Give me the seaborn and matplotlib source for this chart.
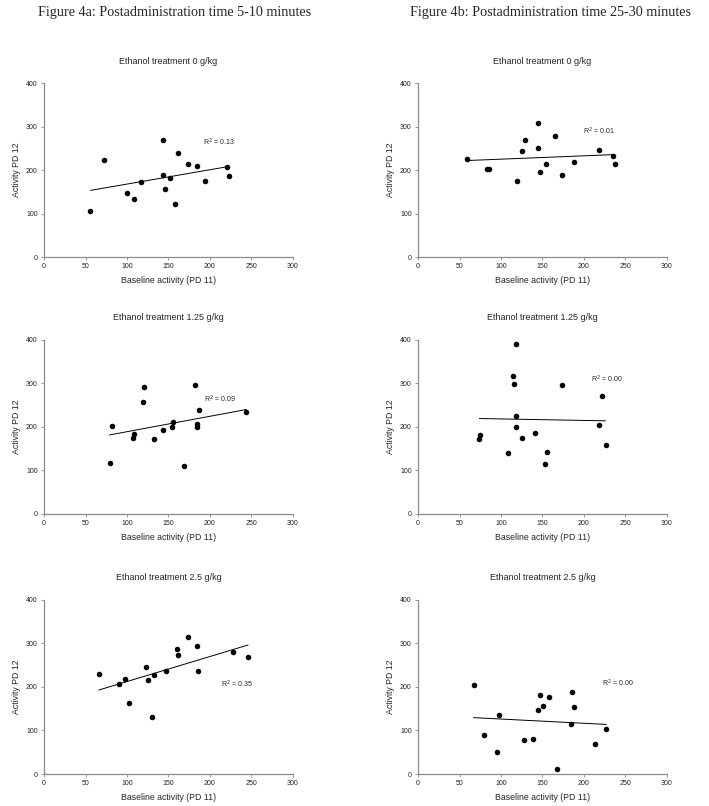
import numpy as np
import pandas as pd
import matplotlib
matplotlib.use("Agg")
import matplotlib.pyplot as plt
import seaborn as sns

# Figure 4a (5-10 min)
a0_x = [56, 72, 100, 108, 117, 144, 144, 146, 152, 158, 161, 174, 184, 194, 220, 223]
a0_y = [107, 222, 147, 133, 173, 270, 188, 156, 182, 123, 239, 215, 209, 175, 208, 186]
a125_x = [79, 82, 107, 109, 119, 121, 132, 143, 154, 155, 169, 182, 184, 184, 187, 244]
a125_y = [117, 203, 174, 183, 258, 292, 172, 192, 200, 211, 110, 297, 207, 201, 239, 235]
a25_x = [66, 90, 98, 102, 123, 125, 130, 133, 147, 160, 161, 173, 185, 186, 228, 246]
a25_y = [229, 206, 219, 164, 245, 216, 132, 228, 237, 287, 274, 314, 295, 237, 280, 269]

# Figure 4b (25-30 min)
b0_x = [59, 83, 85, 119, 125, 129, 145, 145, 147, 154, 165, 174, 188, 218, 235, 237]
b0_y = [226, 202, 203, 176, 243, 268, 308, 250, 196, 215, 279, 188, 219, 245, 232, 213]
b125_x = [74, 75, 108, 114, 116, 118, 118, 118, 125, 141, 153, 155, 173, 218, 222, 226]
b125_y = [172, 182, 139, 316, 299, 390, 224, 201, 174, 187, 114, 143, 297, 204, 272, 158]
b25_x = [67, 79, 95, 98, 128, 139, 145, 147, 151, 158, 168, 185, 186, 188, 213, 227]
b25_y = [205, 90, 51, 136, 77, 81, 146, 182, 156, 178, 12, 116, 188, 154, 70, 103]

r2_labels = ["0.13", "0.01", "0.09", "0.00", "0.35", "0.00"]
r2_pos = [(192, 264), (199, 290), (193, 264), (208, 310), (213, 207), (222, 208)]
treatments = ["Ethanol treatment 0 g/kg", "Ethanol treatment 0 g/kg",
              "Ethanol treatment 1.25 g/kg", "Ethanol treatment 1.25 g/kg",
              "Ethanol treatment 2.5 g/kg", "Ethanol treatment 2.5 g/kg"]
panels = [(a0_x, a0_y), (b0_x, b0_y), (a125_x, a125_y),
          (b125_x, b125_y), (a25_x, a25_y), (b25_x, b25_y)]

sns.set_style("ticks")
plt.rcParams['font.family'] = ['Liberation Sans', 'DejaVu Sans']

fig = plt.figure(figsize=(7.09, 8.06), dpi=100)
fig.text(0.2465, 0.985, "Figure 4a: Postadministration time 5-10 minutes",
         ha='center', va='center', fontsize=10.2, family='Liberation Serif')
fig.text(0.777, 0.984, "Figure 4b: Postadministration time 25-30 minutes",
         ha='center', va='center', fontsize=10.2, family='Liberation Serif')

lefts = [0.0621, 0.5896]
bottoms = [0.681, 0.3623, 0.0397]
grey = '#8a8a8a'

for i, (xs, ys) in enumerate(panels):
    ax = fig.add_axes([lefts[i % 2], bottoms[i // 2], 0.351, 0.216])
    df = pd.DataFrame({'x': xs, 'y': ys})
    sns.regplot(data=df, x='x', y='y', ax=ax, ci=None, truncate=True,
                scatter_kws={'s': 16, 'color': 'black', 'linewidths': 0, 'alpha': 1},
                line_kws={'color': 'black', 'lw': 0.7})
    ax.set_xlim(0, 300)
    ax.set_ylim(0, 400)
    ax.set_xticks(range(0, 301, 50))
    ax.set_yticks(range(0, 401, 100))
    ax.tick_params(labelsize=5, length=2.5, width=0.6, color=grey, pad=2,
                   labelcolor='#222222')
    for s in ['left', 'bottom']:
        ax.spines[s].set_color(grey)
        ax.spines[s].set_linewidth(0.9)
    sns.despine(ax=ax)
    ax.set_xlabel("Baseline activity (PD 11)", fontsize=6.3, labelpad=4)
    ax.set_ylabel("Activity PD 12", fontsize=6.3, labelpad=3.5)
    ax.set_title(treatments[i], fontsize=6.5, pad=14)
    px, py = r2_pos[i]
    ax.text(px, py, "R$^2$ = " + r2_labels[i], fontsize=5, ha='left', va='center')

fig.savefig("out.png", dpi=100)
